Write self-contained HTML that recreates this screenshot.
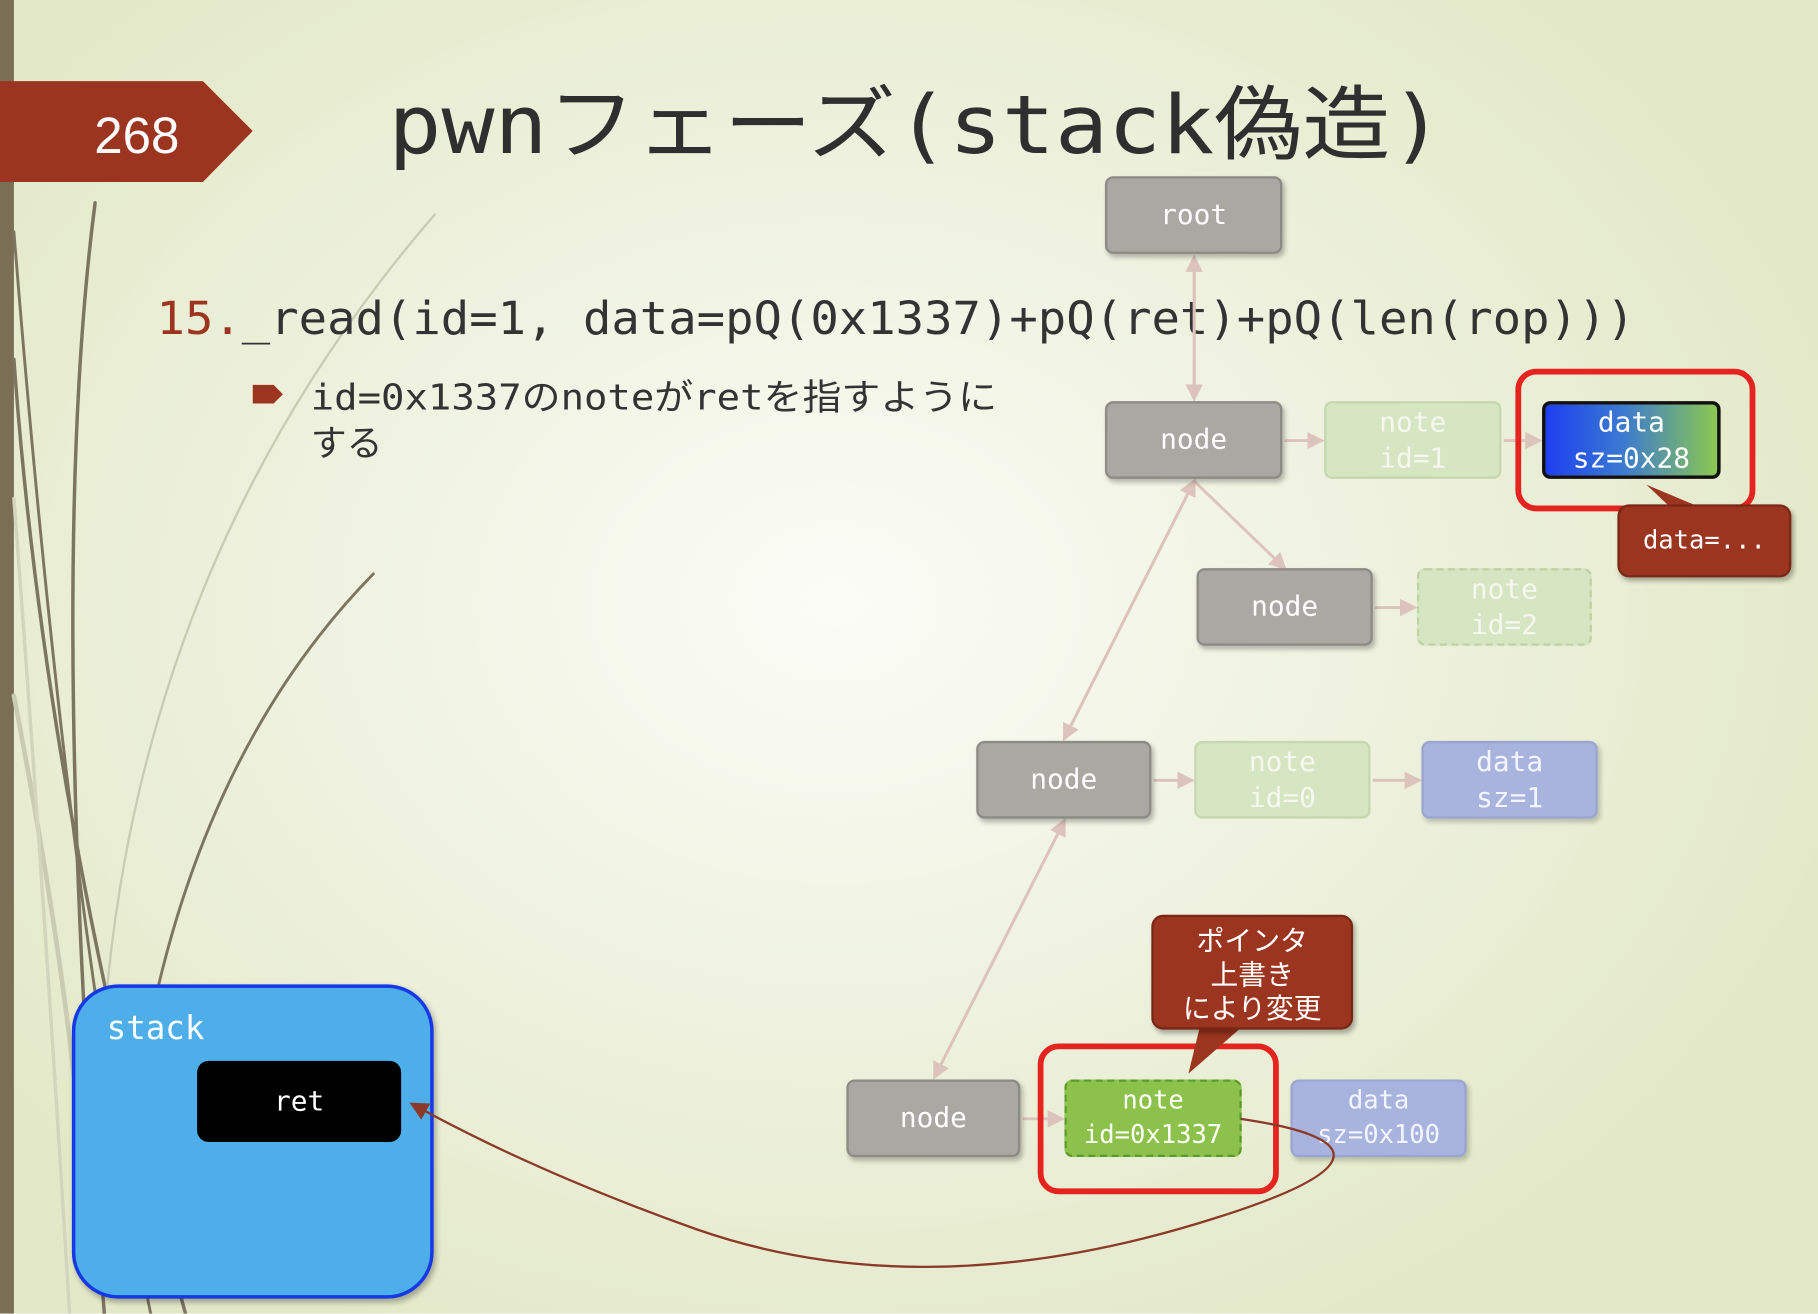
<!DOCTYPE html>
<html><head><meta charset="utf-8">
<style>
html,body{margin:0;padding:0;width:1818px;height:1314px;overflow:hidden;}
#w{position:absolute;left:0;top:0;width:1568px;height:1133px;transform:scale(1.15944);transform-origin:0 0;
background:radial-gradient(ellipse 900px 700px at 720px 520px,#fbfcf6 0%,#f0f3e2 45%,#e3e9c8 100%);
font-family:"DejaVu Sans Mono","Liberation Mono","Noto Sans CJK JP",monospace;overflow:hidden;}
.b{position:absolute;box-sizing:border-box;border-radius:7px;color:#fff;text-align:center;font-size:24px;display:flex;align-items:center;justify-content:center;line-height:31px;}
.n{background:#a9a8a2;border:2px solid #8c8b86;box-shadow:2px 3px 4px rgba(0,0,0,.25);}
.ng{background:#d6e5c2;border:2px solid #c6d8b0;color:#f4f8ee;}
.nd{background:#d6e5c2;border:2px dashed #bcd3a2;color:#f4f8ee;}
.dl{background:#a8b3de;border:2px solid #9aa6d2;color:#f4f6ff;box-shadow:2px 3px 4px rgba(0,0,0,.2);}
.ro{position:absolute;border:5px solid #e52420;border-radius:18px;box-sizing:border-box;}
.cb{position:absolute;background:#9c3520;border:2px solid #7a2714;border-radius:10px;color:#fff;box-sizing:border-box;text-align:center;box-shadow:2px 3px 4px rgba(0,0,0,.3);}
</style></head><body><div id="w">
<svg width="1568" height="1133" style="position:absolute;left:0;top:0">
<rect x="0" y="0" width="12" height="1133" fill="#7a6e55"/>
<g fill="none" stroke-linecap="round">
<path d="M82 175 Q40 500 90 1133" stroke="#7c7560" stroke-width="3"/>
<path d="M12 310 Q40 700 160 1133" stroke="#7c7560" stroke-width="3"/>
<path d="M12 200 Q60 800 130 1133" stroke="#7c7560" stroke-width="2.5"/>
<path d="M322 495 Q180 640 130 880" stroke="#7c7560" stroke-width="2.5"/>
<path d="M375 185 Q120 480 90 880" stroke="#c9cbb3" stroke-width="2"/>
<path d="M12 600 Q60 850 70 1000" stroke="#c9cbb3" stroke-width="4"/>
<path d="M12 430 Q40 800 60 1133" stroke="#d3d6bd" stroke-width="3"/>
</g>
<polygon points="0,70 175,70 218,113 175,157 0,157" fill="#9c3520"/>
<text x="118" y="132" font-family="Liberation Sans,sans-serif" font-size="44" fill="#fff" text-anchor="middle">268</text>
<text x="335" y="132" font-family="DejaVu Sans Mono,Noto Sans CJK JP,monospace" font-size="70" fill="#2f2f2f" textLength="910" lengthAdjust="spacingAndGlyphs">pwnフェーズ(stack偽造)</text>
<text x="135" y="288" font-family="DejaVu Sans Mono,monospace" font-size="39" fill="#333" textLength="1275" lengthAdjust="spacingAndGlyphs"><tspan fill="#9c3520">15.</tspan>_read(id=1, data=pQ(0x1337)+pQ(ret)+pQ(len(rop)))</text>
<path d="M218 332 H236 L244 340 L236 348 H218Z" fill="#9c3520"/>
<text x="268" y="353" font-family="DejaVu Sans Mono,Noto Sans CJK JP,monospace" font-size="31" fill="#333" textLength="592" lengthAdjust="spacingAndGlyphs">id=0x1337のnoteがretを指すように</text>
<text x="268" y="393" font-family="DejaVu Sans Mono,Noto Sans CJK JP,monospace" font-size="31" fill="#333">する</text>
<defs><marker id="a" markerWidth="6" markerHeight="6" refX="5" refY="3" orient="auto"><path d="M0 0L6 3L0 6Z" fill="#dcc3bb"/></marker>
<marker id="r" markerWidth="8" markerHeight="8" refX="7" refY="4" orient="auto"><path d="M0 0L8 4L0 8Z" fill="#8b3a2a"/></marker></defs>
<g stroke="#dcc3bb" stroke-width="2.5" fill="none">
<line x1="1030" y1="222" x2="1030" y2="344" marker-end="url(#a)"/>
<line x1="1030" y1="344" x2="1030" y2="222" marker-end="url(#a)"/>
<line x1="1108" y1="380" x2="1140" y2="380" marker-end="url(#a)"/>
<line x1="1297" y1="380" x2="1328" y2="380" marker-end="url(#a)"/>
<line x1="1030" y1="415" x2="1108" y2="490" marker-end="url(#a)"/>
<line x1="1030" y1="415" x2="918" y2="637" marker-end="url(#a)"/>
<line x1="918" y1="637" x2="1030" y2="415" marker-end="url(#a)"/>
<line x1="1186" y1="524" x2="1220" y2="524" marker-end="url(#a)"/>
<line x1="995" y1="673" x2="1028" y2="673" marker-end="url(#a)"/>
<line x1="1184" y1="673" x2="1224" y2="673" marker-end="url(#a)"/>
<line x1="918" y1="708" x2="806" y2="929" marker-end="url(#a)"/>
<line x1="806" y1="929" x2="918" y2="708" marker-end="url(#a)"/>
<line x1="882" y1="965" x2="916" y2="965" marker-end="url(#a)"/>
</g>
</svg>
<div class="b n" style="left:953px;top:152px;width:153px;height:67px">root</div>
<div class="b n" style="left:953px;top:346px;width:153px;height:67px">node</div>
<div class="b ng" style="left:1142px;top:346px;width:153px;height:67px">note<br>id=1</div>
<div class="ro" style="left:1307px;top:318px;width:207px;height:123px"></div>
<div class="b" style="left:1330px;top:346px;width:154px;height:67px;border:3px solid #111;background:linear-gradient(90deg,#1c3ff0,#3b7ad0 45%,#8cc850)">data<br>sz=0x28</div>
<svg width="1568" height="1133" style="position:absolute;left:0;top:0;pointer-events:none"><polygon points="1420,418 1440,437 1465,437" fill="#9c3520"/></svg>
<div class="cb" style="left:1395px;top:435px;width:150px;height:63px;font-size:22px;line-height:59px">data=...</div>
<div class="b n" style="left:1032px;top:490px;width:152px;height:67px">node</div>
<div class="b nd" style="left:1222px;top:490px;width:151px;height:67px">note<br>id=2</div>
<div class="b n" style="left:842px;top:639px;width:151px;height:67px">node</div>
<div class="b ng" style="left:1030px;top:639px;width:152px;height:67px">note<br>id=0</div>
<div class="b dl" style="left:1226px;top:639px;width:152px;height:67px">data<br>sz=1</div>
<div class="b n" style="left:730px;top:931px;width:150px;height:67px">node</div>
<div class="b" style="left:918px;top:931px;width:153px;height:67px;background:#8cc24c;border:2px dashed #5d9a2a;font-size:22px;line-height:30px">note<br>id=0x1337</div>
<div class="b dl" style="left:1113px;top:931px;width:152px;height:67px;font-size:22px;line-height:30px">data<br>sz=0x100</div>
<div class="ro" style="left:895px;top:900px;width:208px;height:130px"></div>
<svg width="1568" height="1133" style="position:absolute;left:0;top:0;pointer-events:none"><polygon points="1025,926 1035,885 1072,885" fill="#9c3520"/></svg>
<div class="cb" style="left:993px;top:789px;width:174px;height:99px;font-size:24px;line-height:29px;padding-top:4px;font-family:'Noto Sans CJK JP',sans-serif">ポインタ<br>上書き<br>により変更</div>
<div style="position:absolute;left:62px;top:849px;width:312px;height:271px;box-sizing:border-box;background:#4eaeea;border:3px solid #1538e8;border-radius:40px;box-shadow:2px 3px 5px rgba(0,0,0,.3)"></div>
<div style="position:absolute;left:92px;top:870px;color:#fff;font-size:28px">stack</div>
<div class="b" style="left:170px;top:915px;width:176px;height:70px;background:#000;border-radius:10px">ret</div>
<svg width="1568" height="1133" style="position:absolute;left:0;top:0;pointer-events:none">
<path d="M1070 965 Q1240 990 1050 1050 Q800 1130 600 1060 Q460 1010 355 952" fill="none" stroke="#8b3a2a" stroke-width="2" marker-end="url(#r)"/>
</svg>
</div></body></html>
